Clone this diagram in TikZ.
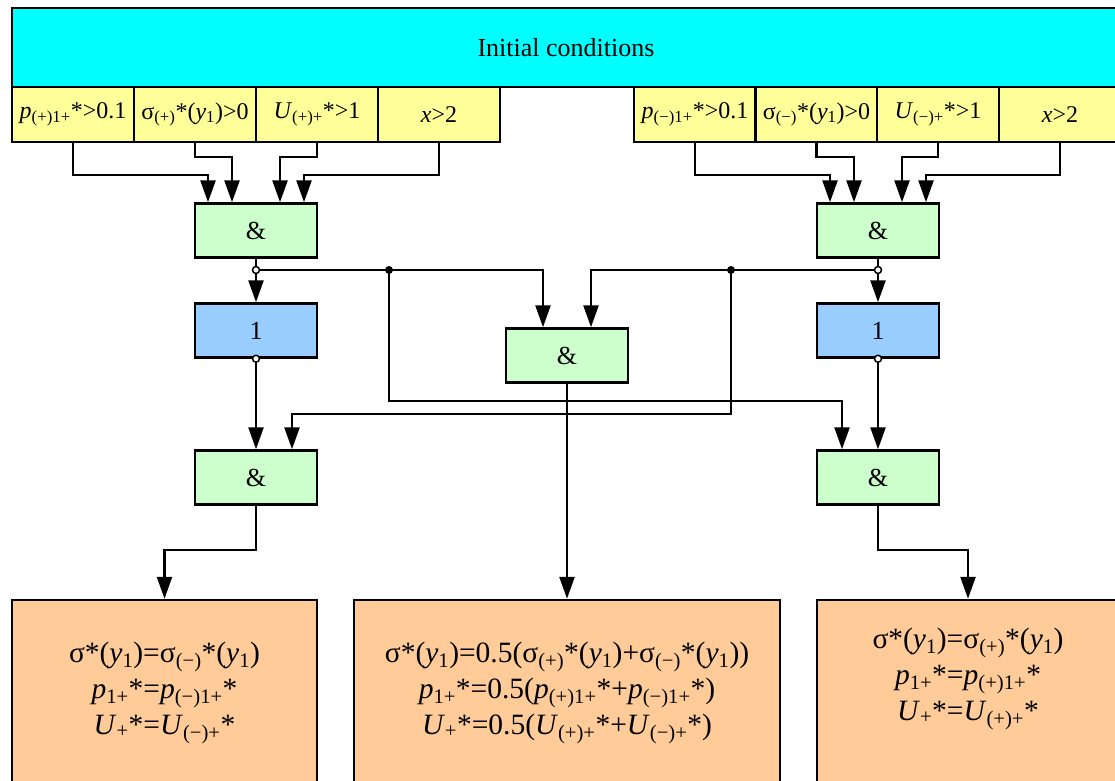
\documentclass[tikz,border=0pt]{standalone}
\usepackage{fontspec}
\setmainfont{Liberation Serif}
\usetikzlibrary{arrows.meta,calc}

% subscript helper
\newcommand{\sbx}[1]{\textsubscript{#1}}

\definecolor{barcyan}{RGB}{0,255,255}
\definecolor{condyellow}{RGB}{255,255,153}
\definecolor{gategreen}{RGB}{204,255,204}
\definecolor{gateblue}{RGB}{153,204,255}
\definecolor{outorange}{RGB}{255,204,153}

\begin{document}
\begin{tikzpicture}[x=1pt,y=-1pt,
  every node/.style={font=\fontsize{24}{28}\selectfont},
  blk/.style={draw, line width=2.5pt, inner sep=0pt},
  cond/.style={blk, fill=condyellow, minimum width=122pt, minimum height=55pt},
  andgate/.style={blk, fill=gategreen, minimum width=122pt, minimum height=54pt, font=\fontsize{26}{30}\selectfont},
  orgate/.style={blk, fill=gateblue, minimum width=122pt, minimum height=54pt, font=\fontsize{26}{30}\selectfont},
  outbox/.style={blk, fill=outorange, minimum height=200pt},
  outtext/.style={align=center, font=\fontsize{29.5}{36}\selectfont},
  arr/.style={line width=2.5pt, -{Triangle[length=22pt,width=15pt]}},
  opendot/.style={circle, draw, fill=white, line width=1.5pt, inner sep=0pt, minimum size=7pt},
  soliddot/.style={circle, fill=black, inner sep=0pt, minimum size=8pt}]

\useasboundingbox (0,0) rectangle (1115,780);
\clip (0,0) rectangle (1115,780);

% header bar
\node[blk, fill=barcyan, minimum width=1108pt, minimum height=79pt,
      font=\fontsize{26}{30}\selectfont] (init) at (566,47.5) {Initial conditions};

% condition cells, left group
\node[cond] (c1) at (73,114.5)  {\textit{p}\sbx{(+)1+}*>0.1};
\node[cond] (c2) at (195,114.5) {σ\sbx{(+)}*(\textit{y}\sbx{1})>0};
\node[cond] (c3) at (317,114.5) {\textit{U}\sbx{(+)+}*>1};
\node[cond] (c4) at (439,114.5) {\textit{x}>2};
% condition cells, right group
\node[cond] (d1) at (695,114.5)  {\textit{p}\sbx{(−)1+}*>0.1};
\node[cond] (d2) at (816.5,114.5){σ\sbx{(−)}*(\textit{y}\sbx{1})>0};
\node[cond] (d3) at (938,114.5)  {\textit{U}\sbx{(−)+}*>1};
\node[cond] (d4) at (1060,114.5) {\textit{x}>2};

% gates
\node[andgate] (andL)  at (256,230.5) {\&};
\node[andgate] (andR)  at (878,230.5) {\&};
\node[orgate]  (notL)  at (256,330.5) {1};
\node[orgate]  (notR)  at (878,330.5) {1};
\node[andgate] (andM)  at (567,355.5) {\&};
\node[andgate] (andLB) at (256,477.5) {\&};
\node[andgate] (andRB) at (878,477.5) {\&};

% result boxes
\node[outbox, minimum width=305pt] (outL) at (164.5,700) {};
\node[outbox, minimum width=426pt] (outM) at (567,700) {};
\node[outbox, minimum width=302pt] (outR) at (968,700) {};

\node[outtext] (tL) at (164.5,693) {σ*(\textit{y}\sbx{1})=σ\sbx{(−)}*(\textit{y}\sbx{1})\\
  \textit{p}\sbx{1+}*=\textit{p}\sbx{(−)1+}*\\
  \textit{U}\sbx{+}*=\textit{U}\sbx{(−)+}*};
\node[outtext] (tM) at (567,693) {σ*(\textit{y}\sbx{1})=0.5(σ\sbx{(+)}*(\textit{y}\sbx{1})+σ\sbx{(−)}*(\textit{y}\sbx{1}))\\
  \textit{p}\sbx{1+}*=0.5(\textit{p}\sbx{(+)1+}*+\textit{p}\sbx{(−)1+}*)\\
  \textit{U}\sbx{+}*=0.5(\textit{U}\sbx{(+)+}*+\textit{U}\sbx{(−)+}*)};
\node[outtext] (tR) at (968,679) {σ*(\textit{y}\sbx{1})=σ\sbx{(+)}*(\textit{y}\sbx{1})\\
  \textit{p}\sbx{1+}*=\textit{p}\sbx{(+)1+}*\\
  \textit{U}\sbx{+}*=\textit{U}\sbx{(+)+}*};

% routing levels
\coordinate (hC1) at (0,175);
\coordinate (hC2) at (0,157);
\coordinate (hJ)  at (0,270);
\coordinate (hB1) at (0,401);
\coordinate (hB2) at (0,414);
\coordinate (hO)  at (0,550);
\coordinate (dL)  at (389,270);
\coordinate (dR)  at (731,270);

% conditions into the first gates
\draw[arr] (c1.south) -- (c1.south |- hC1) -| ([xshift=-48pt]andL.north);
\draw[arr] (c2.south) -- (c2.south |- hC2) -| ([xshift=-24pt]andL.north);
\draw[arr] (c3.south) -- (c3.south |- hC2) -| ([xshift=24pt]andL.north);
\draw[arr] (c4.south) -- (c4.south |- hC1) -| ([xshift=48pt]andL.north);
\draw[arr] (d1.south) -- (d1.south |- hC1) -| ([xshift=-48pt]andR.north);
\draw[arr] (d2.south) -- (d2.south |- hC2) -| ([xshift=-24pt]andR.north);
\draw[arr] (d3.south) -- (d3.south |- hC2) -| ([xshift=24pt]andR.north);
\draw[arr] (d4.south) -- (d4.south |- hC1) -| ([xshift=48pt]andR.north);

% gate network
\draw[arr] (andL.south) -- (notL.north);
\draw[arr] (andR.south) -- (notR.north);
\draw[arr] (andL.south |- hJ) -| ([xshift=-24pt]andM.north);
\draw[arr] (andR.south |- hJ) -| ([xshift=24pt]andM.north);
\draw[arr] (dL) -- (dL |- hB1) -| ([xshift=-36pt]andRB.north);
\draw[arr] (dR) -- (dR |- hB2) -| ([xshift=36pt]andLB.north);
\draw[arr] (notL.south) -- (andLB.north);
\draw[arr] (notR.south) -- (andRB.north);

% outputs
\draw[arr] (andM.south) -- (outM.north);
\draw[arr] (andLB.south) -- (andLB.south |- hO) -| (outL.north);
\draw[arr] (andRB.south) -- (andRB.south |- hO) -| (outR.north);

% junction marks
\node[opendot] at (andL.south |- hJ) {};
\node[opendot] at (andR.south |- hJ) {};
\node[opendot] at (notL.south) {};
\node[opendot] at (notR.south) {};
\node[soliddot] at (dL) {};
\node[soliddot] at (dR) {};
\end{tikzpicture}
\end{document}
